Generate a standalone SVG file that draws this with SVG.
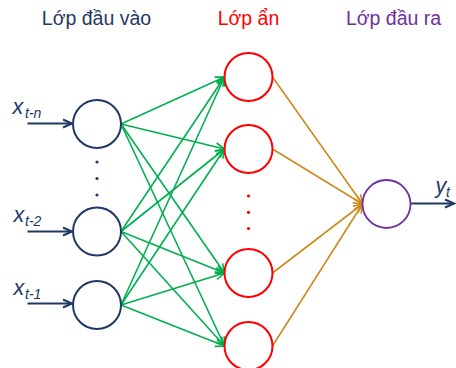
<svg xmlns="http://www.w3.org/2000/svg" width="456" height="368" viewBox="0 0 456 368">
  <style>
    .title { font-family: "Liberation Sans", Arial, sans-serif; font-size: 19.5px; text-anchor: middle; }
    .var { font-family: "Liberation Sans", Arial, sans-serif; font-style: italic; fill: #203864; }
    .main { font-size: 21.5px; }
    .sub { font-size: 14px; }
    .in { fill: #fff; stroke: #203864; stroke-width: 2; }
    .hid { fill: #fff; stroke: #ff0000; stroke-width: 2; }
    .out { fill: #fff; stroke: #7030a0; stroke-width: 1.8; }
    .io { stroke: #203864; stroke-width: 2; fill: none; }
    .g { stroke: #00b050; stroke-width: 1.6; fill: none; marker-end: url(#ag); }
    .o { stroke: #cc8a1e; stroke-width: 1.6; fill: none; marker-end: url(#ao); }
  </style>
  <defs>
    <marker id="ag" markerUnits="userSpaceOnUse" markerWidth="12" markerHeight="10" refX="9" refY="4" orient="auto" overflow="visible">
      <path d="M0,0 L9,4 L0,8" fill="none" stroke="#00b050" stroke-width="1.6"/>
    </marker>
    <marker id="ao" markerUnits="userSpaceOnUse" markerWidth="12" markerHeight="10" refX="9" refY="4" orient="auto" overflow="visible">
      <path d="M0,0 L9,4 L0,8" fill="none" stroke="#cc8a1e" stroke-width="1.6"/>
    </marker>
    <marker id="an" markerUnits="userSpaceOnUse" markerWidth="12" markerHeight="10" refX="9" refY="4" orient="auto" overflow="visible">
      <path d="M0,0 L9,4 L0,8" fill="none" stroke="#203864" stroke-width="2"/>
    </marker>
  </defs>

  <!-- layer titles -->
  <text class="title" x="96.5" y="25" fill="#1f3864">Lớp đầu vào</text>
  <text class="title" x="248.5" y="25" fill="#ff0000">Lớp ẩn</text>
  <text class="title" x="393.5" y="25" fill="#7030a0">Lớp đầu ra</text>

  <!-- connectors -->
  <g id="connectors">
    <!-- input arrows -->
    <line class="io" x1="27.5" y1="123.5" x2="72" y2="123.5" marker-end="url(#an)"/>
    <line class="io" x1="27.5" y1="231.5" x2="72" y2="231.5" marker-end="url(#an)"/>
    <line class="io" x1="27.5" y1="303.5" x2="72" y2="303.5" marker-end="url(#an)"/>
    <!-- input -> hidden -->
    <line class="g" x1="121" y1="124" x2="224.5" y2="77"/>
    <line class="g" x1="121" y1="124" x2="224.5" y2="149"/>
    <line class="g" x1="121" y1="124" x2="224.5" y2="273"/>
    <line class="g" x1="121" y1="124" x2="224.5" y2="346"/>
    <line class="g" x1="121" y1="231.5" x2="224.5" y2="77"/>
    <line class="g" x1="121" y1="231.5" x2="224.5" y2="149"/>
    <line class="g" x1="121" y1="231.5" x2="224.5" y2="273"/>
    <line class="g" x1="121" y1="231.5" x2="224.5" y2="346"/>
    <line class="g" x1="121" y1="305" x2="224.5" y2="77"/>
    <line class="g" x1="121" y1="305" x2="224.5" y2="149"/>
    <line class="g" x1="121" y1="305" x2="224.5" y2="273"/>
    <line class="g" x1="121" y1="305" x2="224.5" y2="346"/>
    <!-- hidden -> output -->
    <line class="o" x1="272.5" y1="77" x2="362.5" y2="204"/>
    <line class="o" x1="272.5" y1="149" x2="362.5" y2="204"/>
    <line class="o" x1="272.5" y1="273" x2="362.5" y2="204"/>
    <line class="o" x1="272.5" y1="346" x2="362.5" y2="204"/>
    <!-- output arrow -->
    <line class="io" x1="410.5" y1="203.5" x2="454" y2="203.5" marker-end="url(#an)"/>
  </g>

  <!-- input layer -->
  <g id="input-1">
    <circle class="in" cx="97" cy="124" r="24"/>
    <text class="var" y="114"><tspan class="main" x="12.5">x</tspan><tspan class="sub" x="25" dy="4">t-n</tspan></text>
  </g>
  <g id="input-dots" fill="#203864">
    <circle cx="97" cy="162" r="1.6"/>
    <circle cx="97" cy="178.5" r="1.6"/>
    <circle cx="97" cy="195" r="1.6"/>
  </g>
  <g id="input-2">
    <circle class="in" cx="97" cy="231.5" r="24"/>
    <text class="var" y="221.5"><tspan class="main" x="13.5">x</tspan><tspan class="sub" x="25" dy="4.5">t-2</tspan></text>
  </g>
  <g id="input-3">
    <circle class="in" cx="97" cy="305" r="24"/>
    <text class="var" y="294.5"><tspan class="main" x="13.5">x</tspan><tspan class="sub" x="25" dy="4.5">t-1</tspan></text>
  </g>

  <!-- hidden layer -->
  <g id="hidden-1"><circle class="hid" cx="248.5" cy="77" r="24"/></g>
  <g id="hidden-2"><circle class="hid" cx="248.5" cy="149" r="24"/></g>
  <g id="hidden-dots" fill="#ff0000">
    <circle cx="248.5" cy="196" r="1.6"/>
    <circle cx="248.5" cy="212.3" r="1.6"/>
    <circle cx="248.5" cy="228.5" r="1.6"/>
  </g>
  <g id="hidden-3"><circle class="hid" cx="248.5" cy="273" r="24"/></g>
  <g id="hidden-4"><circle class="hid" cx="248.5" cy="346" r="24"/></g>

  <!-- output layer -->
  <g id="output">
    <circle class="out" cx="386.5" cy="204" r="24"/>
    <text class="var" y="193"><tspan class="main" x="435.5">y</tspan><tspan class="sub" x="446" dy="4">t</tspan></text>
  </g>
</svg>
